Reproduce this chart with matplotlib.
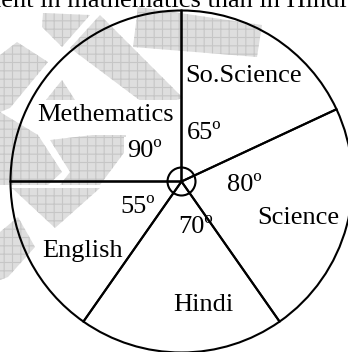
import matplotlib.pyplot as plt
from matplotlib.patches import Circle, Polygon

# subjects clockwise from the top, with their angles in degrees
subjects = ["So.Science", "Science", "Hindi", "English", "Methematics"]
angles = [65, 80, 70, 55, 90]

# hand placed label spots (left x, baseline y) in image pixels, y down
name_pos = {
    "So.Science": (185, 82),
    "Science": (257, 224),
    "Hindi": (173, 311),
    "English": (42, 257),
    "Methematics": (37, 121),
}
angle_pos = {
    "So.Science": (187, 139),
    "Science": (227, 191),
    "Hindi": (178, 233),
    "English": (120, 213),
    "Methematics": (127, 157),
}

# faint watermark behind the chart, image pixels
watermark = [
    [(43, 13), (90, 15), (62, 47), (42, 27)],
    [(100, 15), (183, 98), (150, 108), (70, 48)],
    [(138, 7), (262, 25), (257, 57), (133, 47)],
    [(17, 42), (48, 62), (10, 108), (0, 112), (0, 55)],
    [(62, 80), (75, 100), (38, 110)],
    [(0, 112), (38, 135), (62, 172), (48, 185), (0, 185)],
    [(93, 135), (126, 135), (126, 150), (100, 185), (60, 185), (70, 172), (50, 140)],
    [(12, 188), (100, 188), (55, 228)],
    [(0, 232), (18, 217), (35, 247), (8, 277), (0, 280)],
]

W, H = 348, 352
FONT = "Liberation Serif"


def flip(p):
    return (p[0], H - p[1])


fig = plt.figure(figsize=(W / 100, H / 100), dpi=100)
ax = fig.add_axes([0, 0, 1, 1])

plt.rcParams["hatch.linewidth"] = 0.8
for poly in watermark:
    ax.add_patch(Polygon([flip(p) for p in poly], closed=True, facecolor="#dedede",
                         edgecolor="#c6c6c6", hatch="++", linewidth=0, zorder=0))

cx, cy, r = 181.5, H - 181.5, 171
ax.pie(angles, startangle=90, counterclock=False, center=(cx, cy), radius=r,
       wedgeprops=dict(fill=False, edgecolor="black", linewidth=1.5))
ax.add_patch(Circle((cx, cy), 14, fill=False, edgecolor="black", linewidth=1.5, zorder=3))

for name, a in zip(subjects, angles):
    x, y = flip(name_pos[name])
    box = dict(facecolor="white", edgecolor="none", pad=3) if name == "Methematics" else None
    ax.text(x, y, name, family=FONT, fontsize=19, ha="left", va="baseline", bbox=box, zorder=4)
    x, y = flip(angle_pos[name])
    box = dict(facecolor="white", edgecolor="none", pad=2) if name == "Methematics" else None
    ax.text(x, y, f"{a}º", family=FONT, fontsize=19, ha="left", va="baseline", bbox=box, zorder=4)

# leftover of the question line above the figure
ax.text(347, H - 7, "student in mathematics than in Hindi", family=FONT, fontsize=19,
        ha="right", va="baseline", zorder=4)

ax.set_xlim(0, W)
ax.set_ylim(0, H)
ax.set_aspect("equal")
ax.axis("off")

fig.savefig("out.png", dpi=100)
